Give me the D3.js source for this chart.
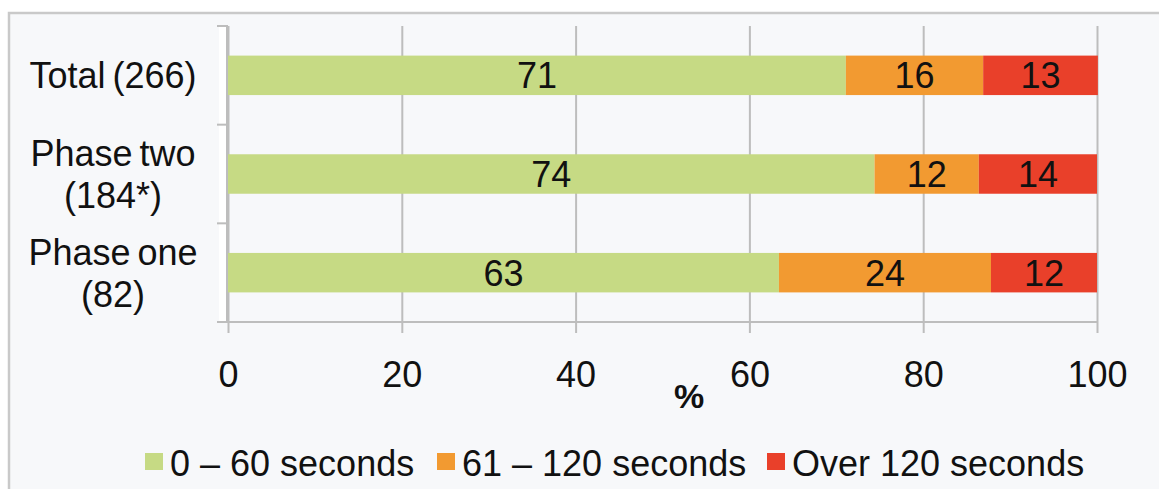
<!DOCTYPE html>
<html><head><meta charset="utf-8">
<script src="https://cdn.jsdelivr.net/npm/d3@7"></script>
<style>html,body{margin:0;padding:0;background:#fff;}svg{display:block;font-family:"Liberation Sans",Arial,sans-serif;}</style>
</head><body>
<svg id="c" width="1159" height="489"></svg>
<script>
const categories = ["Total (266)", "Phase two\n(184*)", "Phase one\n(82)"];
const seriesNames = ["0 \u2013 60 seconds", "61 \u2013 120 seconds", "Over 120 seconds"];
const fast = [71.1, 74.4, 63.4];
const medium = [15.8, 12.0, 24.4];
const slow = [13.2, 13.6, 12.2];
const ticks = [0, 20, 40, 60, 80, 100];
const axisTitle = "%";
const colors = ["#c6da84", "#f29a31", "#e9402a"];

const svg = d3.select("#c");
const W = 1159, H = 489;
const L = 228, R = 1097, T = 26, B = 322;
const FS = 36;

// frame
svg.append("rect").attr("x",9).attr("y",13).attr("width",W+10).attr("height",H+10)
  .attr("fill","#f7f8fa").attr("stroke","#c9c9c9").attr("stroke-width",2.5);

const x = d3.scaleLinear().domain([0,100]).range([L,R]);
const y = d3.scaleBand().domain(categories).range([T,B]).paddingInner(0.6).paddingOuter(0.3);

// y-axis white strip
svg.append("rect").attr("x",219).attr("y",T).attr("width",L-219).attr("height",B-T).attr("fill","#fff");

// gridlines
const gx = svg.append("g").attr("transform",`translate(0,${B})`)
  .call(d3.axisBottom(x).tickValues(ticks).tickSize(-(B-T)).tickFormat(""));
gx.select(".domain").remove();
gx.selectAll("line").attr("stroke","#bdbdbd").attr("stroke-width",2);

// bottom axis
const ax = svg.append("g").attr("transform",`translate(0,${B})`)
  .call(d3.axisBottom(x).tickValues(ticks).tickSizeInner(11).tickSizeOuter(0).tickPadding(0).tickFormat(d3.format("d")));
ax.select(".domain").attr("d",`M217,0H${R}`).attr("stroke","#bdbdbd").attr("stroke-width",2);
ax.selectAll("line").attr("stroke","#bdbdbd").attr("stroke-width",2);
ax.selectAll("text").attr("y",65).attr("dy",null).attr("font-size",FS).attr("fill","#111")
  .attr("font-family","'Liberation Sans',Arial,sans-serif");

// left axis ticks at category boundaries
const bounds = [T, T+(B-T)/3, T+2*(B-T)/3, B];
svg.append("line").attr("x1",L-1).attr("x2",L-1).attr("y1",T).attr("y2",B).attr("stroke","#bdbdbd").attr("stroke-width",2);
svg.selectAll(".ytick").data(bounds).enter().append("line")
  .attr("x1",217).attr("x2",L).attr("y1",d=>d).attr("y2",d=>d)
  .attr("stroke","#bdbdbd").attr("stroke-width",2);

// stacked bars
const rows = categories.map((c,i)=>({cat:c, vals:[fast[i],medium[i],slow[i]]}));
rows.forEach(r=>{
  let acc = 0;
  r.vals.forEach((v,j)=>{
    const x0 = acc, x1 = acc+v; acc = x1;
    svg.append("rect").attr("x",x(x0)).attr("y",y(r.cat)).attr("width",x(x1)-x(x0)).attr("height",y.bandwidth())
      .attr("fill",colors[j]);
    svg.append("text").attr("x",(x(x0)+x(x1))/2).attr("y",y(r.cat)+y.bandwidth()/2+13)
      .attr("text-anchor","middle").attr("font-size",FS).attr("fill","#111").text(d3.format(".0f")(v));
  });
});

// category labels
categories.forEach(c=>{
  const lines = c.split("\n");
  const cy = y(c)+y.bandwidth()/2;
  const lh = 42;
  lines.forEach((ln,k)=>{
    const off = (k-(lines.length-1)/2)*lh;
    svg.append("text").attr("x",113).attr("y",cy+off+13).attr("text-anchor","middle")
      .attr("font-size",FS).attr("fill","#111").attr("word-spacing",-3).text(ln);
  });
});

// axis title
svg.append("text").attr("x",689).attr("y",408).attr("text-anchor","middle")
  .attr("font-size",34).attr("font-weight","bold").attr("fill","#111").text(axisTitle);

// legend
const legX = [145, 437, 767];
seriesNames.forEach((n,i)=>{
  svg.append("rect").attr("x",legX[i]).attr("y",453).attr("width",18).attr("height",17).attr("fill",colors[i]);
  svg.append("text").attr("x",legX[i]+25).attr("y",476).attr("font-size",FS).attr("fill","#111").text(n);
});
</script>
</body></html>
